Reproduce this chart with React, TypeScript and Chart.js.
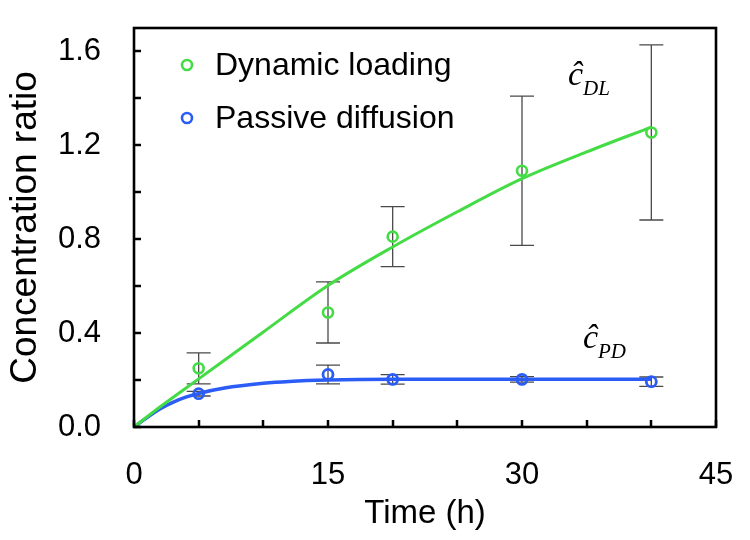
import React, { useEffect, useRef } from 'react';
import { Chart, registerables } from 'chart.js';

Chart.register(...registerables);

// Measured points (mean ± error)
const timePoints = [5, 15, 20, 30, 40];
const dlMean = [0.25, 0.488, 0.811, 1.092, 1.255];
const dlErr = [0.066, 0.13, 0.128, 0.318, 0.373];
const pdMean = [0.142, 0.224, 0.203, 0.203, 0.193];
const pdErr = [0.01, 0.04, 0.02, 0.012, 0.02];

// Model curves
const dlFitTime = [0, 2, 5, 10, 15, 20, 25, 30, 35, 40];
const dlFitValue = [0, 0.085, 0.205, 0.405, 0.603, 0.767, 0.917, 1.058, 1.172, 1.278];
const pdFitTime = [0, 1, 2, 3, 4, 5, 7, 10, 12, 15, 20, 30, 40];
const pdFitValue = [0, 0.04, 0.077, 0.105, 0.127, 0.143, 0.166, 0.186, 0.194, 0.2, 0.203, 0.203, 0.203];

// Axis ticks
const xTickLabels = [0, 15, 30, 45];
const yTickLabels = [0, 0.4, 0.8, 1.2, 1.6];
const xTickMarks = [0, 5, 10, 15, 20, 25, 30, 35, 40, 45];
const yTickMarks = [0, 0.2, 0.4, 0.6, 0.8, 1.0, 1.2, 1.4, 1.6];

const seriesNames = ['Dynamic loading', 'Passive diffusion'];
const GREEN = '#44dc44';
const BLUE = '#2b5df6';

const SANS = '"Liberation Sans", Arial, Helvetica, sans-serif';
const SERIF = '"Liberation Serif", "Times New Roman", serif';

const toXY = (xs: number[], ys: number[]) => xs.map((x, i) => ({ x, y: ys[i] }));

const framePlugin = {
  id: 'frameAndExtras',
  beforeDatasetsDraw(chart: any) {
    const { ctx } = chart;
    const xs = chart.scales.x;
    const ys = chart.scales.y;
    ctx.save();
    ctx.strokeStyle = '#4a4a4a';
    ctx.lineWidth = 1.3;
    const cap = 12;
    const drawBars = (means: number[], errs: number[]) => {
      timePoints.forEach((t, i) => {
        const px = xs.getPixelForValue(t);
        const top = ys.getPixelForValue(means[i] + errs[i]);
        const bot = ys.getPixelForValue(means[i] - errs[i]);
        ctx.beginPath();
        ctx.moveTo(px, top);
        ctx.lineTo(px, bot);
        ctx.moveTo(px - cap, top);
        ctx.lineTo(px + cap, top);
        ctx.moveTo(px - cap, bot);
        ctx.lineTo(px + cap, bot);
        ctx.stroke();
      });
    };
    drawBars(dlMean, dlErr);
    drawBars(pdMean, pdErr);
    ctx.restore();
  },
  afterDraw(chart: any) {
    const { ctx, chartArea } = chart;
    const xs = chart.scales.x;
    const ys = chart.scales.y;
    const { left, right, top, bottom } = chartArea;
    ctx.save();
    // inward tick marks
    ctx.strokeStyle = '#000';
    ctx.lineWidth = 2.5;
    const tl = 7;
    xTickMarks.forEach((v) => {
      const px = Math.round(xs.getPixelForValue(v));
      ctx.beginPath();
      ctx.moveTo(px, bottom);
      ctx.lineTo(px, bottom - tl);
      ctx.stroke();
    });
    yTickMarks.forEach((v) => {
      const py = Math.round(ys.getPixelForValue(v));
      ctx.beginPath();
      ctx.moveTo(left, py);
      ctx.lineTo(left + tl, py);
      ctx.stroke();
    });
    // frame
    ctx.lineWidth = 2.6;
    ctx.strokeRect(left, top, right - left, bottom - top);

    // legend
    const colors = [GREEN, BLUE];
    seriesNames.forEach((name, i) => {
      const cy = top + 37 + i * 53;
      const cx = left + 53;
      ctx.beginPath();
      ctx.arc(cx, cy, 5, 0, Math.PI * 2);
      ctx.strokeStyle = colors[i];
      ctx.lineWidth = 2.6;
      ctx.stroke();
      ctx.fillStyle = '#000';
      ctx.font = `32px ${SANS}`;
      ctx.textAlign = 'left';
      ctx.textBaseline = 'middle';
      ctx.fillText(name, left + 81, cy + 1);
    });

    // curve annotations
    const annot = (xv: number, yv: number, sub: string) => {
      const px = xs.getPixelForValue(xv);
      const py = ys.getPixelForValue(yv);
      ctx.fillStyle = '#000';
      ctx.textAlign = 'left';
      ctx.textBaseline = 'alphabetic';
      ctx.font = `italic 34px ${SERIF}`;
      ctx.fillText('\u0109', px, py);
      ctx.font = `italic 21px ${SERIF}`;
      ctx.fillText(sub, px + 15, py + 10);
    };
    annot(33.56, 1.457, 'DL');
    annot(34.72, 0.337, 'PD');
    ctx.restore();
  },
};

export default function App() {
  const canvasRef = useRef<HTMLCanvasElement | null>(null);

  useEffect(() => {
    document.body.style.margin = '0';
    const canvas = canvasRef.current;
    if (!canvas) return;
    const chart = new Chart(canvas, {
      type: 'scatter',
      data: {
        datasets: [
          {
            label: 'DL model',
            type: 'line',
            data: toXY(dlFitTime, dlFitValue),
            borderColor: GREEN,
            borderWidth: 3,
            pointRadius: 0,
            cubicInterpolationMode: 'monotone',
            fill: false,
          },
          {
            label: 'PD model',
            type: 'line',
            data: toXY(pdFitTime, pdFitValue),
            borderColor: BLUE,
            borderWidth: 3.5,
            pointRadius: 0,
            cubicInterpolationMode: 'monotone',
            fill: false,
          },
          {
            label: seriesNames[0],
            data: toXY(timePoints, dlMean),
            showLine: false,
            pointStyle: 'circle',
            pointRadius: 5,
            pointBorderWidth: 2.6,
            pointBorderColor: GREEN,
            pointBackgroundColor: 'rgba(0,0,0,0)',
          },
          {
            label: seriesNames[1],
            data: toXY(timePoints, pdMean),
            showLine: false,
            pointStyle: 'circle',
            pointRadius: 5,
            pointBorderWidth: 2.8,
            pointBorderColor: BLUE,
            pointBackgroundColor: 'rgba(0,0,0,0)',
          },
        ],
      } as any,
      options: {
        responsive: false,
        animation: false,
        devicePixelRatio: 1,
        layout: { padding: { top: 28, right: 34, left: 0, bottom: 0 } },
        plugins: { legend: { display: false }, tooltip: { enabled: false } },
        scales: {
          x: {
            type: 'linear',
            min: 0,
            max: 45,
            grid: { display: false },
            border: { display: false },
            afterBuildTicks: (s: any) => {
              s.ticks = xTickLabels.map((v) => ({ value: v }));
            },
            afterFit: (s: any) => {
              s.height = 113;
              s.paddingLeft = 0;
              s.paddingRight = 0;
            },
            ticks: {
              color: '#000',
              font: { family: SANS, size: 31 },
              padding: 22,
              maxRotation: 0,
              callback: (v: any) => String(v),
            },
            title: {
              display: true,
              text: 'Time (h)',
              color: '#000',
              font: { family: SANS, size: 33 },
              padding: { top: 0, bottom: 6 },
            },
          },
          y: {
            type: 'linear',
            min: 0,
            max: 1.7,
            grid: { display: false },
            border: { display: false },
            afterBuildTicks: (s: any) => {
              s.ticks = yTickLabels.map((v) => ({ value: v }));
            },
            afterFit: (s: any) => {
              s.width = 134;
              s.paddingTop = 0;
              s.paddingBottom = 0;
            },
            ticks: {
              color: '#000',
              font: { family: SANS, size: 31 },
              padding: 25,
              callback: (v: any) => Number(v).toFixed(1),
            },
            title: {
              display: true,
              text: 'Concentration ratio',
              color: '#000',
              font: { family: SANS, size: 37 },
              padding: { top: 4, bottom: 0 },
            },
          },
        },
      } as any,
      plugins: [framePlugin],
    });
    return () => chart.destroy();
  }, []);

  return (
    <div style={{ position: 'absolute', left: 0, top: 0, width: 750, height: 540, background: '#fff' }}>
      <canvas ref={canvasRef} width={750} height={540} style={{ display: 'block' }} />
    </div>
  );
}
